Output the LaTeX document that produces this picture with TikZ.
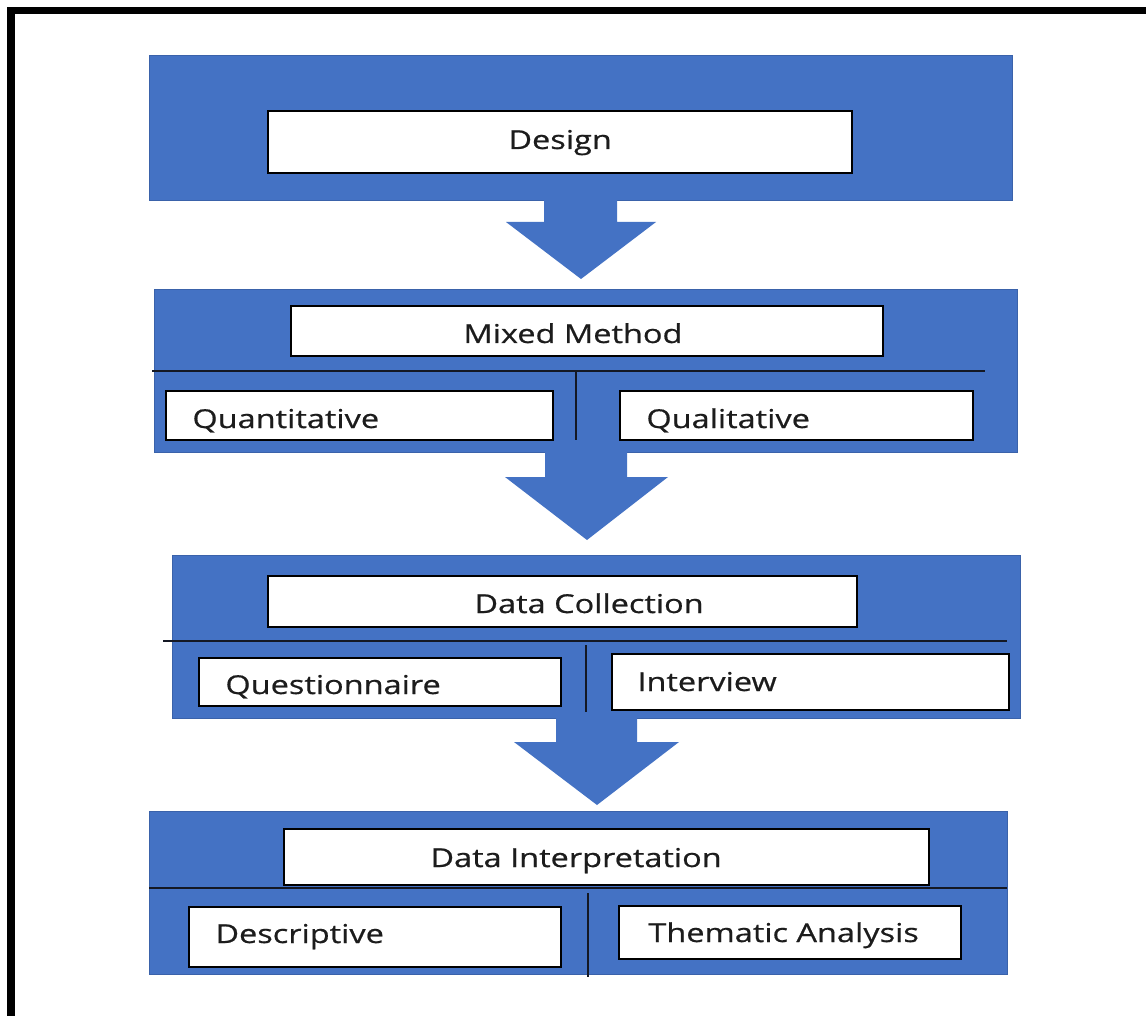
\documentclass[tikz,border=0pt]{standalone}
\usepackage{fontspec}
\setmainfont[FakeStretch=1.25,FakeBold=0.6]{Open Sans}
\usetikzlibrary{fit}
\definecolor{ofblue}{RGB}{68,114,196}
\definecolor{ofedge}{RGB}{58,98,170}
\definecolor{ink}{RGB}{28,28,28}
\definecolor{rulecol}{RGB}{20,24,36}

\tikzset{
  panel/.style={fill=ofblue, draw=ofedge, line width=0.5pt, inner sep=0pt},
  slot/.style={fill=white, draw=black, line width=1pt, inner sep=0pt},
  lbl/.style={anchor=base west, inner sep=0pt, text=ink, font=\fontsize{13}{15}\selectfont},
  divider/.style={draw=rulecol, line width=1pt},
  flow/.style={fill=ofblue}
}

\begin{document}
\begin{tikzpicture}[x=0.5pt,y=-0.5pt]
\useasboundingbox (0,0) rectangle (1146,1016);
\fill[white] (0,0) rectangle (1146,1016);

% outer frame, top and left edges only
\draw[line width=3.75pt, line join=miter] (11,1016) -- (11,10.75) -- (1146,10.75);

% stage panels
\node[panel, fit={(149,56)(1012,201)}]  (p1) {};
\node[panel, fit={(154,290)(1017,452)}] (p2) {};
\node[panel, fit={(172,555)(1020,718)}] (p3) {};
\node[panel, fit={(149,811)(1007,974)}] (p4) {};

% block arrows between stages
\fill[flow] (544,200) -- (617,200) -- (617,222) -- (656,222) -- (581,279) -- (506,222) -- (544,222) -- cycle;
\fill[flow] (545,451) -- (627,451) -- (627,477) -- (668,477) -- (587,540) -- (505,477) -- (545,477) -- cycle;
\fill[flow] (556,717) -- (637,717) -- (637,742) -- (679,742) -- (597,805) -- (514,742) -- (556,742) -- cycle;

% dividers
\draw[divider] (152,371) -- (985,371);
\draw[divider] (576,371) -- (576,440);
\draw[divider] (163,641) -- (1007,641);
\draw[divider] (586,645) -- (586,712);
\draw[divider] (149,888) -- (1007,888);
\draw[divider] (588,893) -- (588,977);

% white boxes
\node[slot, fit={(268,111)(852,173)}] (design) {};
\node[slot, fit={(291,306)(883,356)}] (mixed) {};
\node[slot, fit={(166,391)(553,440)}] (quant) {};
\node[slot, fit={(620,391)(973,440)}] (qual) {};
\node[slot, fit={(268,576)(857,627)}] (collect) {};
\node[slot, fit={(199,658)(561,706)}] (quest) {};
\node[slot, fit={(612,654)(1009,710)}] (interv) {};
\node[slot, fit={(284,829)(929,885)}] (interp) {};
\node[slot, fit={(189,907)(561,967)}] (descr) {};
\node[slot, fit={(619,906)(961,959)}] (thema) {};

% labels
\node[lbl] (tdesign)  at (508,149) {Design};
\node[lbl] (tmixed)   at (463,343) {Mixed Method};
\node[lbl] (tquant)   at (192,428) {Quantitative};
\node[lbl] (tqual)    at (646,428) {Qualitative};
\node[lbl] (tcollect) at (474,613) {Data Collection};
\node[lbl] (tquest)   at (225,694) {Questionnaire};
\node[lbl] (tinterv)  at (637,691) {Interview};
\node[lbl] (tinterp)  at (430,867) {Data Interpretation};
\node[lbl] (tdescr)   at (215,943) {Descriptive};
\node[lbl] (tthema)   at (648,942) {Thematic Analysis};
\end{tikzpicture}
\end{document}
